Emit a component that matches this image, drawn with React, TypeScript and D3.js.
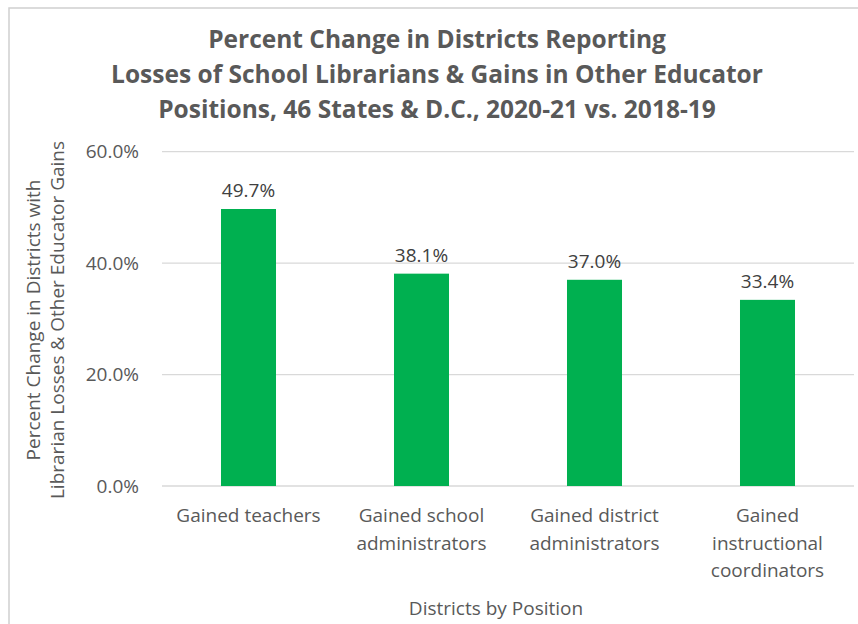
import React from "react";
import * as d3 from "d3";

const categories = [
  "Gained teachers",
  "Gained school administrators",
  "Gained district administrators",
  "Gained instructional coordinators",
];
const categoryLines = [
  ["Gained teachers"],
  ["Gained school", "administrators"],
  ["Gained district", "administrators"],
  ["Gained", "instructional", "coordinators"],
];
const values = [49.7, 38.1, 37.0, 33.4];
const yTicks = [0, 20, 40, 60];
const titleLines = [
  "Percent Change in Districts Reporting",
  "Losses of School Librarians & Gains in Other Educator",
  "Positions, 46 States & D.C., 2020-21 vs. 2018-19",
];
const yTitleLines = [
  "Percent Change in Districts with",
  "Librarian Losses & Other Educator Gains",
];
const xTitle = "Districts by Position";

const W = 858;
const H = 624;
const FONT = "'Open Sans', Lato, sans-serif";
const TXT = "#595959";

export default function App() {
  const x = d3
    .scaleBand<string>()
    .domain(categories)
    .range([162, 854])
    .paddingInner(0.682)
    .paddingOuter(0.341);
  const y = d3.scaleLinear().domain([0, 60]).range([486, 151.6]);
  const fmt = (v: number) => d3.format(".1f")(v) + "%";

  return (
    <svg
      width={W}
      height={H}
      style={{ position: "absolute", left: 0, top: 0, background: "#fff" }}
      fontFamily={FONT}
    >
      <rect x={9} y={8} width={W + 10} height={H + 10} fill="#fff" stroke="#d0d0d0" strokeWidth={1.5} />
      {titleLines.map((t, i) => (
        <text
          key={i}
          x={437}
          y={48 + i * 35}
          textAnchor="middle"
          fontSize={24.5}
          fontWeight={700}
          fill={TXT}
        >
          {t}
        </text>
      ))}
      {yTicks.map((t) => (
        <g key={t}>
          <line x1={162} x2={854} y1={y(t)} y2={y(t)} stroke="#d9d9d9" strokeWidth={1.3} />
          <text x={139} y={y(t) + 6.5} textAnchor="end" fontSize={19} fill={TXT}>
            {fmt(t)}
          </text>
        </g>
      ))}
      {categories.map((c, i) => (
        <g key={c}>
          <rect
            x={x(c)}
            y={y(values[i])}
            width={x.bandwidth()}
            height={y(0) - y(values[i])}
            fill="#00B050"
          />
          <text
            x={(x(c) as number) + x.bandwidth() / 2}
            y={y(values[i]) - 12}
            textAnchor="middle"
            fontSize={19}
            fill="#404040"
          >
            {fmt(values[i])}
          </text>
          {categoryLines[i].map((l, j) => (
            <text
              key={j}
              x={(x(c) as number) + x.bandwidth() / 2}
              y={522 + j * 27.5}
              textAnchor="middle"
              fontSize={19}
              fill={TXT}
            >
              {l}
            </text>
          ))}
        </g>
      ))}
      <text x={496} y={615} textAnchor="middle" fontSize={19} fill={TXT}>
        {xTitle}
      </text>
      {yTitleLines.map((t, i) => (
        <text
          key={i}
          transform={`translate(${40 + i * 24},320) rotate(-90)`}
          textAnchor="middle"
          fontSize={19}
          fill={TXT}
        >
          {t}
        </text>
      ))}
    </svg>
  );
}
